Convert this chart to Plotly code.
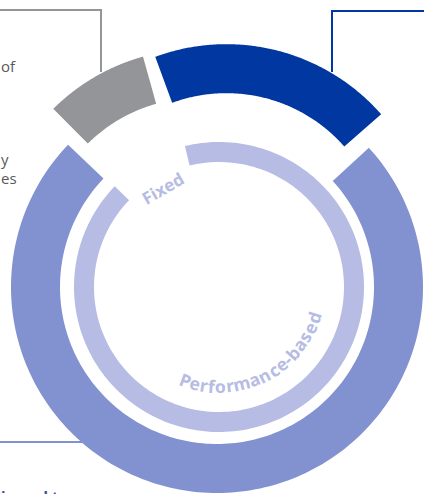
import numpy as np
import plotly.graph_objects as go

W, H = 424, 494

# ---- data ----
outer_labels = ["Share B", "Share A", "Share C"]   # counter-clockwise order
outer_values = [19, 8, 73]                           # percent
outer_colors = ["#0037A1", "#939598", "#8291CF"]

inner_labels = ["Fixed", "Performance-based"]        # clockwise order
inner_values = [9, 91]                               # percent
inner_colors = [None, "#B6BCE3"]

side_texts = ["of", "y", "es"]
bottom_text = "delivered to"

# ---- styling (geometry of the exploded ring, in px) ----
outer_start_deg = 41.8
outer_pull = [38, 37, 0]
outer_shift = [-0.25, -4.4, -1.0]
outer_pad = [0.25, 0.2, 1.7]
R_OUT, R_IN = 206, 157
inner_start_deg = 136
inner_center = (2, 0)
r_out, r_in = 145, 125


def px(x):
    return x / W


def py(y):
    return 1 - y / H


def arc_polygon(a0, a1, ri, ro, cx=0.0, cy=0.0, n=200):
    t = np.radians(np.linspace(a0, a1, n))
    x = np.concatenate([ro * np.cos(t), ri * np.cos(t[::-1]), [ro * np.cos(t[0])]]) + cx
    y = np.concatenate([ro * np.sin(t), ri * np.sin(t[::-1]), [ro * np.sin(t[0])]]) + cy
    return x, y


fig = go.Figure()

# outer exploded ring
cum = 0.0
for i, (lab, v, c) in enumerate(zip(outer_labels, outer_values, outer_colors)):
    a0 = outer_start_deg + cum * 3.6
    a1 = a0 + v * 3.6
    cum += v
    a0 = a0 - outer_pad[i] + outer_shift[i]
    a1 = a1 + outer_pad[i] + outer_shift[i]
    mid = np.radians((a0 + a1) / 2)
    cx, cy = outer_pull[i] * np.cos(mid), outer_pull[i] * np.sin(mid)
    x, y = arc_polygon(a0, a1, R_IN, R_OUT, cx, cy)
    fig.add_trace(go.Scatter(x=x, y=y, fill="toself", fillcolor=c, mode="none",
                             name=lab, hoverinfo="name"))

# inner ring (clockwise)
cum = 0.0
for lab, v, c in zip(inner_labels, inner_values, inner_colors):
    a0 = inner_start_deg - cum * 3.6
    a1 = a0 - v * 3.6
    cum += v
    if c is None:
        continue
    x, y = arc_polygon(a0, a1, r_in, r_out, *inner_center)
    fig.add_trace(go.Scatter(x=x, y=y, fill="toself", fillcolor=c, mode="none",
                             name=lab, hoverinfo="name"))

annotations = []
label_color = "#B6BCE3"
label_font = "Open Sans"

# "Fixed" label inside the gap, tangent to the ring
fix_mid = inner_start_deg - inner_values[0] * 3.6 / 2
tf = np.radians(fix_mid)
rf = 114
annotations.append(dict(x=inner_center[0] + rf * np.cos(tf), y=inner_center[1] + rf * np.sin(tf),
                        text="<b>%s</b>" % inner_labels[0], showarrow=False,
                        textangle=-(fix_mid - 90),
                        font=dict(family=label_font, size=17, color=label_color)))

# "Performance-based" curved along the inside of the ring
word = inner_labels[1]
cw = {"P": .622, "e": .598, "r": .457, "f": .395, "o": .619, "m": .92, "a": .598,
      "n": .654, "c": .511, "-": .322, "b": .631, "s": .513, "d": .631}
fs = 17.5
R_txt = 99
widths = [cw.get(ch, .6) * fs for ch in word]
total = sum(widths)
mid_angle = 296
start = mid_angle - np.degrees(total / R_txt) / 2
acc = 0.0
for ch, w in zip(word, widths):
    ang = start + np.degrees((acc + w / 2) / R_txt)
    acc += w
    t = np.radians(ang)
    ta = -(ang + 90)
    while ta < -180:
        ta += 360
    annotations.append(dict(x=inner_center[0] + R_txt * np.cos(t),
                            y=inner_center[1] + R_txt * np.sin(t),
                            text="<b>%s</b>" % ch, showarrow=False, textangle=ta,
                            font=dict(family=label_font, size=fs, color=label_color)))

# cut-off side texts
side_y = [66, 159, 178]
for txt, yy in zip(side_texts, side_y):
    annotations.append(dict(x=px(-1), y=py(yy), xref="paper", yref="paper", text=txt,
                            showarrow=False, xanchor="left", yanchor="middle",
                            font=dict(family="Open Sans", size=15, color="#58595B")))
annotations.append(dict(x=px(-24), y=py(484), xref="paper", yref="paper",
                        text="<b>%s</b>" % bottom_text, showarrow=False,
                        xanchor="left", yanchor="top",
                        font=dict(family="Open Sans", size=15, color="#3D4A9C")))

shapes = [
    dict(type="path", xref="paper", yref="paper",
         path="M %f %f L %f %f L %f %f" % (px(-2), py(10), px(101), py(10), px(101), py(72)),
         line=dict(color="#939598", width=2)),
    dict(type="path", xref="paper", yref="paper",
         path="M %f %f L %f %f L %f %f" % (px(426), py(11), px(332), py(11), px(332), py(72)),
         line=dict(color="#0037A1", width=2)),
    dict(type="line", xref="paper", yref="paper", x0=px(-2), y0=py(442), x1=px(82), y1=py(442),
         line=dict(color="#8291CF", width=2), layer="below"),
]

ax_common = dict(visible=False, fixedrange=True, showgrid=False, zeroline=False, domain=[0, 1])
fig.update_layout(
    width=W, height=H, margin=dict(l=0, r=0, t=0, b=0),
    paper_bgcolor="white", plot_bgcolor="rgba(0,0,0,0)", showlegend=False,
    xaxis=dict(range=[-217, W - 217], **ax_common),
    yaxis=dict(range=[-(H - 287), 287], **ax_common),
    annotations=annotations, shapes=shapes,
)

fig.write_html("out.html", config={"displayModeBar": False},
               post_script="document.body.style.margin='0';document.body.style.overflow='hidden';")
